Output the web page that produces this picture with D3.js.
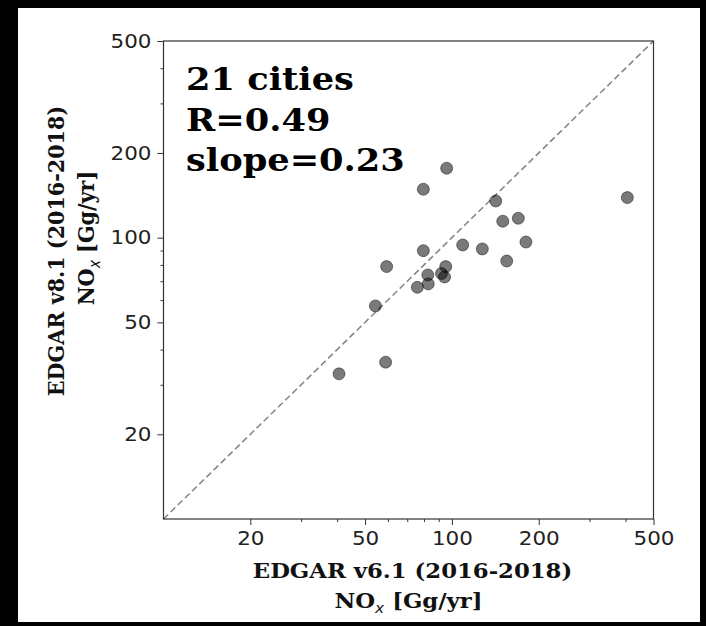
<!DOCTYPE html>
<html>
<head>
<meta charset="utf-8">
<script src="https://cdn.jsdelivr.net/npm/d3@7"></script>
<style>
  body { margin: 0; background: #000; }
  svg { display: block; }
</style>
</head>
<body>
<svg id="scatter-chart"></svg>
<script>
// Emissions NOx par ville (Gg/an)
const edgarV61 = [95.9, 79.6, 141.9, 405.7, 150.1, 169.9, 180.6, 109.0, 127.5, 79.6, 154.9,
                  59.4, 95.2, 82.5, 92.0, 94.3, 82.8, 75.9, 54.3, 58.9, 40.6];
const edgarV81 = [176.5, 148.6, 135.0, 138.8, 114.4, 117.2, 96.5, 94.2, 91.2, 89.9, 82.6,
                  78.9, 78.9, 73.7, 74.6, 72.5, 68.5, 66.6, 57.2, 36.1, 32.8];

// Graduations des axes
const axisDomain = [10, 500];
const majorTicks = [20, 50, 100, 200, 500];
const minorTicks = [30, 40, 60, 70, 80, 90, 300, 400];

// Texte d'annotation
const statsLines = ["21 cities", "R=0.49", "slope=0.23"];

const W = 706, H = 626;
const margin = { top: 41, right: 52.5, bottom: 107, left: 163.5 };
const width = W - margin.left - margin.right;
const height = H - margin.top - margin.bottom;

// la figure d'origine est légèrement étirée en largeur
const stretch = 1.1;

const root = d3.select("#scatter-chart")
    .attr("width", W)
    .attr("height", H);

// Fond blanc avec bordure noire
root.append("rect")
    .attr("x", 18).attr("y", 8)
    .attr("width", W - 24).attr("height", H - 12)
    .attr("fill", "#fff");

const svg = root.append("g")
    .attr("transform", `translate(${margin.left},${margin.top})`);

// Échelles logarithmiques
const x = d3.scaleLog().domain(axisDomain).range([0, width]);
const y = d3.scaleLog().domain(axisDomain).range([height, 0]);

// Ligne 1:1 en pointillés
svg.append("line")
    .attr("x1", x(axisDomain[0])).attr("y1", y(axisDomain[0]))
    .attr("x2", x(axisDomain[1])).attr("y2", y(axisDomain[1]))
    .attr("stroke", "#888")
    .attr("stroke-width", 1.6)
    .attr("stroke-dasharray", "6.5,3.5");

// Points
const data = edgarV61.map((v, i) => ({ x: v, y: edgarV81[i] }));
svg.selectAll(".dot")
    .data(data)
    .enter()
    .append("circle")
    .attr("class", "dot")
    .attr("cx", d => x(d.x))
    .attr("cy", d => y(d.y))
    .attr("r", 6)
    .attr("fill", "#000")
    .attr("fill-opacity", 0.52)
    .attr("stroke", "#000")
    .attr("stroke-opacity", 0.45)
    .attr("stroke-width", 1);

// Axes (graduations majeures et mineures)
const fmt = d3.format("d");
const xMajor = svg.append("g")
    .attr("transform", `translate(0,${height})`)
    .call(d3.axisBottom(x).tickValues(majorTicks).tickFormat(fmt).tickSize(6).tickSizeOuter(0).tickPadding(6));
const xMinor = svg.append("g")
    .attr("transform", `translate(0,${height})`)
    .call(d3.axisBottom(x).tickValues(minorTicks).tickFormat("").tickSize(3).tickSizeOuter(0));
const yMajor = svg.append("g")
    .call(d3.axisLeft(y).tickValues(majorTicks).tickFormat(fmt).tickSize(6).tickSizeOuter(0).tickPadding(6));
const yMinor = svg.append("g")
    .call(d3.axisLeft(y).tickValues(minorTicks).tickFormat("").tickSize(3).tickSizeOuter(0));

[xMajor, xMinor, yMajor, yMinor].forEach(g => {
    g.select(".domain").remove();
    g.selectAll("line").attr("stroke", "#333").attr("stroke-width", 1);
    g.selectAll("text")
        .attr("fill", "#222")
        .style("font-family", "'DejaVu Sans', sans-serif")
        .style("font-size", "19.5px");
});

// étirer les libellés autour de leur point d'ancrage
xMajor.selectAll("text")
    .attr("transform", `scale(${stretch},1)`);
yMajor.selectAll("text")
    .attr("transform", function() { return `translate(${d3.select(this).attr("x")},0) scale(${stretch},1)`; })
    .attr("x", 0);

// Cadre
svg.append("rect")
    .attr("width", width)
    .attr("height", height)
    .attr("fill", "none")
    .attr("stroke", "#333")
    .attr("stroke-width", 1.2);

// Annotation statistique
root.append("text")
    .attr("transform", `translate(186,90) scale(${stretch},1)`)
    .style("font-family", "'DejaVu Serif', serif")
    .style("font-weight", "bold")
    .style("font-size", "32px")
    .attr("fill", "#000")
    .selectAll("tspan")
    .data(statsLines)
    .enter()
    .append("tspan")
    .attr("x", 0)
    .attr("dy", (d, i) => i === 0 ? 0 : 40.7)
    .text(d => d);

// Libellés d'axes (NO avec indice x)
function addNoxLine(sel) {
    sel.append("tspan").text("NO");
    sel.append("tspan")
        .style("font-size", "14px")
        .style("font-style", "italic")
        .style("font-weight", "normal")
        .style("font-family", "'DejaVu Sans', sans-serif")
        .attr("dy", 5)
        .text("x");
    sel.append("tspan").attr("dy", -5).text(" [Gg/yr]");
}

const labelStyle = sel => sel
    .attr("text-anchor", "middle")
    .attr("fill", "#111")
    .style("font-family", "'DejaVu Serif', serif")
    .style("font-weight", "bold")
    .style("font-size", "20.7px");

const cx = margin.left + width / 2;
root.append("text").call(labelStyle)
    .attr("transform", `translate(${cx + 4},578) scale(${stretch},1)`)
    .text("EDGAR v6.1 (2016-2018)");
root.append("text").call(labelStyle)
    .attr("transform", `translate(${cx},608) scale(${stretch},1)`)
    .call(addNoxLine);

root.append("text").call(labelStyle)
    .attr("transform", `translate(64,251) scale(${stretch},1) rotate(-90)`)
    .text("EDGAR v8.1 (2016-2018)");
root.append("text").call(labelStyle)
    .attr("transform", `translate(94,238) scale(${stretch},1) rotate(-90)`)
    .call(addNoxLine);
</script>
</body>
</html>
